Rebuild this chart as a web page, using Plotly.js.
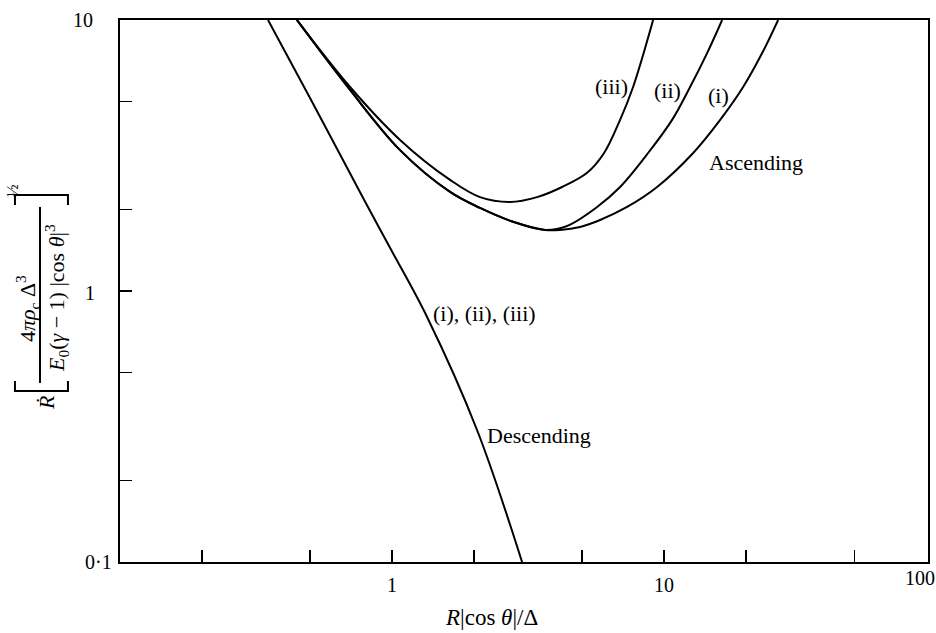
<!DOCTYPE html>
<html>
<head>
<meta charset="utf-8">
<script src="https://cdn.plot.ly/plotly-3.0.1.min.js"></script>
<style>html,body{margin:0;padding:0;background:#fff;}#chart{width:936px;height:633px;}</style>
</head>
<body>
<div id="chart"></div>
<script>
// Descending branch: (i), (ii), (iii) coincide
const descX = [0.350, 0.504, 0.789, 0.992, 1.345, 2.053, 3.006];
const descY = [10, 5.07, 2.17, 1.42, 0.802, 0.307, 0.1];

// Ascending branches
const ascIX = [0.447, 0.701, 1.070, 1.634, 2.106, 2.786, 3.652, 4.146, 4.912, 5.817, 7.311, 9.425, 12.79, 16.07, 19.52, 22.93, 26.25];
const ascIY = [10, 5.52, 3.31, 2.32, 2.025, 1.80, 1.68, 1.68, 1.723, 1.828, 2.042, 2.42, 3.23, 4.28, 5.66, 7.55, 10];

const ascIIX = [0.447, 0.701, 1.070, 1.634, 2.106, 2.786, 3.652, 4.400, 5.672, 6.890, 8.734, 10.70, 12.46, 14.39, 16.34];
const ascIIY = [10, 5.52, 3.31, 2.32, 2.025, 1.80, 1.68, 1.738, 2.042, 2.42, 3.23, 4.28, 5.66, 7.55, 10];

const ascIIIX = [0.447, 0.701, 1.070, 1.634, 2.106, 2.716, 3.413, 4.217, 5.212, 6.017, 6.890, 7.691, 9.112];
const ascIIIY = [10, 5.66, 3.61, 2.57, 2.22, 2.13, 2.22, 2.42, 2.73, 3.23, 4.28, 5.66, 10];

// Tick values and labels
const xTickVals = [1, 10];
const xTickText = ['1', '10'];
const xEndLabel = '100';
const xMinorVals = [0.2, 0.5, 2, 5, 20, 50];
const yTickVals = [0.1, 1, 10];
const yTickText = ['0·1', '1', '10'];
const yMinorVals = [0.2, 0.5, 2, 5];

const FONT = 'Liberation Serif, Times New Roman, serif';
const lineStyle = {color: '#000', width: 2, shape: 'spline', smoothing: 1};

const traces = [
  {x: descX, y: descY, mode: 'lines', line: lineStyle, name: 'Descending', hoverinfo: 'skip'},
  {x: ascIX, y: ascIY, mode: 'lines', line: lineStyle, name: '(i)', hoverinfo: 'skip'},
  {x: ascIIX, y: ascIIY, mode: 'lines', line: lineStyle, name: '(ii)', hoverinfo: 'skip'},
  {x: ascIIIX, y: ascIIIY, mode: 'lines', line: lineStyle, name: '(iii)', hoverinfo: 'skip'}
];

function ann(text, x, y, opts) {
  return Object.assign({text: text, x: x, y: y, xref: 'paper', yref: 'paper',
    showarrow: false, xanchor: 'center', yanchor: 'middle',
    font: {family: FONT, size: 22, color: '#000'}}, opts || {});
}
function rot(text, x, y, size) {
  return ann(text, x, y, {textangle: -90, font: {family: FONT, size: size, color: '#000'}});
}

// y tick labels placed individually (right edges as in the original)
const yLabelRight = [-0.0074, -0.0285, -0.0309];
const yLabelShift = [0, -2, 0];
const yLabels = yTickText.map((t, i) => ({
  text: t, xref: 'paper', yref: 'y', x: yLabelRight[i], y: Math.log10(yTickVals[i]),
  xanchor: 'right', yanchor: 'middle', yshift: yLabelShift[i], showarrow: false,
  font: {family: FONT, size: 20, color: '#000'}
}));

const annotations = yLabels.concat([
  ann('(iii)', 0.6089, 0.8782),
  ann('(ii)', 0.6782, 0.8708),
  ann('(i)', 0.7401, 0.8616),
  ann('Ascending', 0.7871, 0.7362),
  ann('(i), (ii), (iii)', 0.4517, 0.4594),
  ann('Descending', 0.4517, 0.2325, {xanchor: 'left'}),
  ann(xEndLabel, 0.990, -0.030, {font: {family: FONT, size: 20, color: '#000'}}),
  ann('<i>R</i>|cos <i>θ</i>|/Δ', 0.4592, -0.1015, {font: {family: FONT, size: 23, color: '#000'}}),
  // y-axis title pieces (rotated)
  rot('<i>Ṙ</i>', -0.0903, 0.2934, 22),
  rot('4<i>πρ</i><sub>c</sub> Δ<sup>3</sup>', -0.1151, 0.4686, 22),
  rot('<i>E</i><sub>0</sub>(<i>γ</i> − 1) |cos <i>θ</i>|<sup>3</sup>', -0.0780, 0.4871, 22),
  rot('½', -0.1337, 0.6863, 17)
]);

const L = {color: '#000', width: 2};
const shapes = [
  {type: 'line', xref: 'paper', yref: 'paper', x0: -0.0990, x1: -0.0990, y0: 0.3303, y1: 0.6550, line: L},
  {type: 'path', xref: 'paper', yref: 'paper',
   path: 'M -0.1300 0.3339 L -0.1300 0.3155 L -0.0644 0.3155 L -0.0644 0.3339', line: L},
  {type: 'path', xref: 'paper', yref: 'paper',
   path: 'M -0.1300 0.6587 L -0.1300 0.6771 L -0.0644 0.6771 L -0.0644 0.6587', line: L}
];

const axisCommon = {
  type: 'log', tickmode: 'array', ticks: 'inside', ticklen: 12, tickwidth: 1.5,
  tickcolor: '#000', showline: true, mirror: true, linewidth: 2, linecolor: '#000',
  showgrid: false, zeroline: false, fixedrange: true,
  tickfont: {family: FONT, size: 20, color: '#000'}
};

const layout = {
  width: 936, height: 633,
  margin: {l: 120, r: 8, t: 20, b: 71},
  paper_bgcolor: '#fff', plot_bgcolor: '#fff',
  showlegend: false,
  xaxis: Object.assign({}, axisCommon, {
    range: [-1, 1.97], tickvals: xTickVals, ticktext: xTickText, ticklabelstandoff: 4,
    minor: {tickmode: 'array', tickvals: xMinorVals, ticks: 'inside', ticklen: 12, tickwidth: 1.5, tickcolor: '#000', showgrid: false}
  }),
  yaxis: Object.assign({}, axisCommon, {
    range: [-1, 1], tickvals: yTickVals, ticktext: yTickText, showticklabels: false,
    minor: {tickmode: 'array', tickvals: yMinorVals, ticks: 'inside', ticklen: 12, tickwidth: 1.5, tickcolor: '#000', showgrid: false}
  }),
  annotations: annotations,
  shapes: shapes
};

Plotly.newPlot('chart', traces, layout, {staticPlot: true, displayModeBar: false});
</script>
</body>
</html>
